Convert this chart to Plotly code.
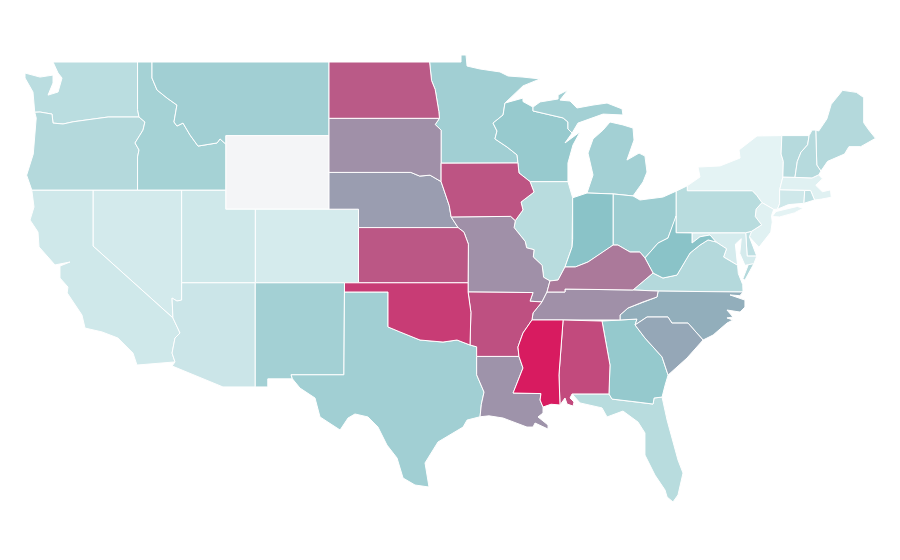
import plotly.graph_objects as go
from plotly.colors import sample_colorscale

# State values (0-100), read from the shade of each state
STATE_CODES = ["WY","NY","MA","NJ","DC","CT","RI","DE","MD","CO","NV","CA","UT","AZ","FL","WA","OR","ME","VT","NH",
               "PA","VA","IL","ID","MT","NM","TX","MN","WI","MI","OH","GA","IN","WV","NC","SC","NE","SD","MO","TN",
               "LA","KY","AR","ND","IA","KS","OK","AL","MS"]
STATE_VALUES = [0,6,8,8,8,16,23,24,13,13,14,16,16,18,27,26,29,29,28,28,
                27,29,27,36,38,37,38,38,43,37,40,44,49,49,56,58,61,65,65,65,
                64,72,84,81,83,82,90,86,100]
COLOR_STOPS = [[0.0,"#f4f5f7"],[0.04,"#e8f5f6"],[0.5,"#88c2c7"],[1.0,"#d81b60"]]

# Base geography: simplified boundaries in degrees (lon, lat)
WA_OR = [(-124.0,46.27),(-123.64,46.28),(-122.83,46.17),(-122.76,45.68),(-122.08,45.63),(-121.4,45.75),(-120.05,45.9),(-119.03,46.01),(-116.93,46.01)]
SNAKE = [(-116.93,46.01),(-116.53,45.74),(-116.66,45.3),(-117.2,44.6),(-116.93,44.22),(-117.03,43.84),(-117.03,42.04)]
ID_MT = [(-116.05,48.13),(-115.71,47.48),(-115.03,47.04),(-114.36,46.66),(-114.56,45.74),(-114.36,45.52),(-113.95,45.68),(-113.47,45.03),(-112.93,44.43),(-111.64,44.6),(-111.44,44.82),(-111.05,44.54)]
COLO = [(-114.63,35.09),(-114.15,34.27),(-114.49,34.0),(-114.69,33.18),(-114.49,32.7)]
RED = [(-100.05,34.6),(-99.24,34.33),(-97.88,33.89),(-96.32,33.78),(-95.37,33.89),(-94.49,33.62)]
SABINE = [(-94.04,33.0),(-94.04,32.0),(-93.54,31.06),(-93.72,30.4),(-93.81,29.72)]
MO_UP = [(-95.3,40.0),(-95.77,40.58),(-95.9,41.2),(-96.1,41.7),(-96.45,42.5)]
SD_NE = [(-96.45,42.5),(-97.2,42.85),(-97.9,42.8),(-98.5,43.0),(-104.05,43.0)]
RED_N = [(-97.23,49.0),(-97.1,48.0),(-96.85,47.5),(-96.6,46.3),(-96.56,45.94)]
SD_MN = [(-96.56,45.94),(-96.85,45.6),(-96.45,45.3),(-96.45,43.5)]
MISS_N = [(-92.12,46.77),(-92.25,46.12),(-92.93,45.68),(-92.66,45.25),(-92.8,44.82),(-91.98,44.38),(-91.3,43.95),(-91.24,43.51)]
MISS_IA = [(-91.24,43.51),(-91.17,42.97),(-90.42,42.5)]
MISS_IL = [(-90.42,42.5),(-90.15,41.93),(-91.03,41.39),(-90.9,40.96),(-91.42,40.38)]
MISS_MO = [(-91.42,40.38),(-91.5,40.0),(-90.75,39.25),(-90.65,38.9),(-90.15,38.8),(-90.2,38.4),(-89.6,37.95),(-89.5,37.3),(-89.07,37.1)]
MISS_KYTN = [(-89.07,37.1),(-89.27,36.5),(-89.61,35.96)]
MISS_AR = [(-89.61,35.96),(-90.22,35.36),(-90.29,34.98)]
MISS_AR2 = [(-90.29,34.98),(-90.9,34.27),(-91.24,33.51),(-91.17,33.0)]
MISS_LA = [(-91.17,33.0),(-90.9,32.37),(-91.57,31.01),(-89.68,30.98),(-89.74,30.63),(-89.54,30.25)]
OHIO_KY_IL = [(-89.07,37.1),(-88.52,37.15),(-88.05,37.86)]
OHIO_IN = [(-88.05,37.86),(-87.35,37.86),(-86.49,38.13),(-85.47,38.67),(-84.79,39.05)]
OHIO_OH = [(-84.79,39.05),(-84.46,39.05),(-83.64,38.67),(-82.97,38.67),(-82.63,38.35)]
OHIO_WV = [(-82.63,38.35),(-81.74,39.16),(-81.07,39.43),(-80.59,40.41),(-80.52,40.64)]
BIG_SANDY = [(-82.63,38.35),(-82.08,37.53)]
VA_WV = [(-82.08,37.53),(-81.41,37.26),(-80.46,37.42),(-79.78,38.35),(-79.57,38.62),(-78.9,39.05),(-78.35,39.33),(-77.81,39.22)]
POTOMAC = [(-77.81,39.22),(-77.1,38.85),(-77.3,38.4),(-76.95,38.25),(-76.35,37.95)]
TN_NC = [(-81.74,36.55),(-81.81,36.23),(-82.76,35.96),(-83.78,35.63),(-84.32,35.25),(-84.32,34.98)]
GA_SC = [(-83.3,34.71),(-82.63,34.0),(-81.47,32.97),(-81.13,32.15),(-81.06,31.99)]
NC_SC = [(-83.3,34.71),(-82.49,35.14),(-81.07,35.14),(-80.8,34.81),(-79.71,34.81),(-78.69,33.89)]
AL_GA = [(-85.54,34.92),(-85.0,32.53),(-85.07,30.96)]
FL_GA = [(-85.07,30.96),(-84.86,30.68),(-83.17,30.52),(-82.08,30.41),(-82.01,30.74),(-81.47,30.79)]
MS_AL = [(-88.18,34.98),(-88.46,31.99),(-88.39,30.36)]
DELAWARE = [(-74.7,41.36),(-75.1,41.0),(-75.15,40.6),(-74.72,40.15),(-75.4,39.8)]
NY_PA = [(-75.35,42.0),(-75.05,41.75),(-74.7,41.36)]
CT_RIVER = [(-71.5,45.0),(-71.6,44.5),(-72.05,44.1),(-72.3,43.6),(-72.46,42.73)]
WI_MI = [(-90.22,46.34),(-88.18,45.96),(-87.85,45.74),(-87.85,45.36),(-87.57,45.14)]

def rv(line):
    return line[::-1]

STATE_RINGS = {
 "WA": [[(-122.76,49.0),(-117.03,49.0),(-117.03,46.42),(-116.93,46.01)]+rv(WA_OR)+[(-124.12,47.37),(-124.66,48.13),(-124.66,48.4),(-123.64,48.18),(-122.76,48.29),(-122.76,47.86),(-123.1,47.2),(-122.42,47.37),(-122.15,48.13),(-122.42,48.4)]],
 "OR": [WA_OR+SNAKE+[(-124.2,42.04),(-124.55,42.85),(-124.1,44.0),(-123.9,45.96)]],
 "CA": [[(-124.2,42.04),(-120.05,42.04),(-120.05,39.0)]+COLO+[(-117.07,32.53),(-117.34,33.18),(-118.36,34.0),(-119.44,34.33),(-120.59,34.54),(-120.8,35.25),(-121.8,36.45),(-121.75,36.77),(-122.29,37.26),(-122.29,37.91),(-121.61,38.13),(-122.63,37.97),(-123.71,38.95),(-123.78,39.76),(-124.32,40.41),(-124.05,41.12)]],
 "NV": [[(-120.05,42.04),(-114.04,42.04),(-114.04,36.06),(-114.36,36.01),(-114.69,36.17),(-114.63,35.09),(-120.05,39.0)]],
 "ID": [[(-117.03,49.0),(-116.05,49.0)]+ID_MT+[(-111.05,42.04)]+rv(SNAKE)+[(-117.03,46.42)]],
 "MT": [[(-116.05,49.0),(-104.05,49.0),(-104.05,45.0),(-111.05,45.0)]+rv(ID_MT)],
 "WY": [[(-111.05,45.0),(-104.05,45.0),(-104.05,41.0),(-111.05,41.0)]],
 "UT": [[(-114.04,42.04),(-111.05,42.04),(-111.05,41.0),(-109.05,41.0),(-109.05,37.0),(-114.04,37.0)]],
 "AZ": [[(-114.04,37.0),(-109.05,37.0),(-109.05,31.34),(-111.24,31.34),(-114.69,32.48)]+rv(COLO)+[(-114.69,36.17),(-114.36,36.01),(-114.04,36.06)]],
 "CO": [[(-109.05,41.0),(-102.05,41.0),(-102.05,37.0),(-109.05,37.0)]],
 "NM": [[(-109.05,37.0),(-103.0,37.0),(-103.04,32.0),(-106.62,32.0),(-106.53,31.78),(-108.2,31.78),(-108.2,31.34),(-109.05,31.34)]],
 "TX": [[(-103.0,36.5),(-100.05,36.5)]+RED+[(-94.04,33.52)]+SABINE+[(-94.69,29.54),(-94.96,29.16),(-96.66,28.35),(-97.54,27.21),(-97.27,25.9),(-98.22,26.01),(-99.03,26.39),(-99.44,27.48),(-100.12,28.18),(-100.73,29.16),(-101.41,29.71),(-102.29,29.87),(-102.76,29.65),(-103.3,29.0),(-104.66,29.71),(-105.0,30.74),(-106.02,31.28),(-106.53,31.78),(-106.62,32.0),(-103.04,32.0)]],
 "OK": [[(-103.0,37.0),(-94.62,37.0),(-94.62,36.5),(-94.43,35.4)]+rv(RED)+[(-100.05,36.5),(-103.0,36.5)]],
 "KS": [[(-102.05,40.0),(-95.3,40.0),(-94.9,39.75),(-94.6,39.1),(-94.62,37.0),(-102.05,37.0)]],
 "NE": [[(-104.05,43.0)]+rv(SD_NE)[1:]+rv(MO_UP)+[(-102.05,40.0),(-102.05,41.0),(-104.05,41.0)]],
 "SD": [[(-104.05,45.94)]+SD_MN+[(-96.45,42.5)]+SD_NE[1:]],
 "ND": [[(-104.05,49.0)]+RED_N+[(-104.05,45.94)]],
 "MN": [[(-97.23,49.0),(-95.1,49.0),(-95.1,49.38),(-94.76,49.38),(-94.69,48.78),(-93.81,48.62),(-92.46,48.46),(-91.91,48.24),(-90.9,48.18),(-89.74,48.08),(-90.9,47.7)]+MISS_N+[(-96.45,43.5)]+rv(SD_MN)+rv(RED_N)[1:]],
 "IA": [[(-96.45,43.5)]+MISS_IA+MISS_IL[1:]+[(-91.73,40.61),(-95.77,40.58),(-95.9,41.2),(-96.1,41.7),(-96.45,42.5)]],
 "MO": [[(-95.77,40.58),(-91.73,40.61)]+MISS_MO+MISS_KYTN[1:]+[(-90.42,36.0),(-90.22,36.47),(-94.62,36.5),(-94.62,37.0),(-94.6,39.1),(-94.9,39.75),(-95.3,40.0)]],
 "AR": [[(-94.62,36.5),(-90.22,36.47),(-90.42,36.0)]+MISS_AR+MISS_AR2[1:]+[(-94.04,33.0),(-94.04,33.52),(-94.49,33.62),(-94.43,35.4)]],
 "LA": [MISS_LA+[(-89.54,29.92),(-89.88,29.71),(-89.2,29.27),(-89.2,29.05),(-90.08,29.38),(-90.22,29.16),(-90.63,29.16),(-91.3,29.35),(-92.25,29.65),(-93.2,29.77)]+rv(SABINE)],
 "MS": [[(-90.29,34.98)]+MS_AL+[(-89.0,30.4)]+rv(MISS_LA)+rv(MISS_AR2)[1:]],
 "AL": [[(-88.18,34.98)]+AL_GA+[(-87.57,30.96),(-87.71,30.74),(-87.44,30.52),(-87.5,30.3),(-87.91,30.41),(-88.05,30.74),(-88.39,30.36),(-88.46,31.99)]],
 "GA": [AL_GA+FL_GA[1:]+[(-81.26,31.45)]+rv(GA_SC)+[(-83.17,35.03),(-84.32,34.98)]],
 "FL": [[(-87.57,30.96)]+FL_GA+[(-81.13,29.54),(-80.39,27.37),(-80.05,26.66),(-80.39,25.47),(-80.73,25.09),(-81.13,25.36),(-81.27,25.74),(-81.95,26.55),(-82.63,27.64),(-82.63,28.84),(-83.1,29.43),(-84.12,30.03),(-85.2,29.71),(-85.54,30.2),(-87.03,30.47)]],
 "SC": [NC_SC+[(-79.78,32.91)]+rv(GA_SC)],
 "NC": [[(-81.74,36.55),(-75.98,36.5),(-76.2,36.3),(-76.86,36.34),(-75.85,36.06),(-75.85,35.68),(-76.18,35.41),(-77.07,35.52),(-76.66,35.14),(-77.07,35.09),(-76.66,34.98),(-77.07,34.81),(-78.01,34.16)]+rv(NC_SC)+[(-83.17,35.03)]+rv(TN_NC)[:-1]],
 "TN": [[(-89.27,36.5),(-88.05,36.5),(-88.05,36.66),(-83.44,36.61)]+TN_NC+rv(MISS_AR)],
 "KY": [OHIO_KY_IL+OHIO_IN[1:]+OHIO_OH[1:]+BIG_SANDY[1:]+[(-83.44,36.61),(-88.05,36.66),(-88.05,36.5),(-89.27,36.5)]],
 "VA": [[(-83.44,36.61)]+VA_WV+POTOMAC+[(-76.3,37.5),(-76.0,36.9),(-75.98,36.5),(-81.74,36.55)],
        [(-75.25,38.03),(-75.62,37.99),(-76.0,37.2),(-75.85,37.15)]],
 "WV": [OHIO_WV+[(-80.52,39.72),(-79.44,39.71),(-79.44,39.16),(-78.9,39.5),(-78.22,39.6)]+rv(VA_WV)+rv(BIG_SANDY)[1:]],
 "OH": [[(-84.79,41.83),(-83.44,41.72),(-82.97,41.5),(-81.41,41.66),(-80.52,41.98)]+rv(OHIO_WV)+rv(OHIO_OH)],
 "IN": [[(-87.53,41.62),(-86.56,41.88),(-84.79,41.83)]+rv(OHIO_IN)+[(-87.57,38.95),(-87.53,39.35)]],
 "IL": [[(-90.42,42.5),(-87.85,42.5),(-87.53,41.62),(-87.53,39.35),(-87.57,38.95)]+rv(OHIO_KY_IL)+rv(MISS_MO)[1:]+rv(MISS_IL)[1:]],
 "WI": [[(-92.12,46.77),(-90.9,47.04),(-90.9,46.85),(-90.22,46.55)]+WI_MI+[(-88.05,44.6),(-87.03,45.2),(-87.51,44.49),(-87.85,43.51),(-87.85,42.5)]+rv(MISS_IA)+rv(MISS_N)],
 "MI": [[(-86.56,41.88),(-84.79,41.83),(-83.44,41.72),(-82.76,42.48),(-82.49,43.02),(-82.63,43.89),(-83.03,44.05),(-83.85,43.67),(-83.37,44.76),(-83.44,45.41),(-84.12,45.58),(-85.0,45.74),(-85.47,45.3),(-86.15,44.82),(-86.49,44.05),(-86.15,42.86)],
        [(-90.22,46.55),(-89.74,46.83),(-88.52,46.99),(-88.52,47.21),(-87.85,47.48),(-88.39,46.93),(-87.71,46.88),(-87.24,46.5),(-86.15,46.66),(-85.2,46.77),(-84.18,46.45),(-84.12,46.12),(-85.47,46.17),(-86.56,45.85),(-87.17,45.68)]+rv(WI_MI)],
 "PA": [[(-80.52,41.98),(-79.76,42.27),(-79.76,42.0)]+NY_PA+DELAWARE[1:]+[(-75.8,39.72),(-80.52,39.72),(-80.52,40.64)]],
 "NY": [[(-79.76,42.27),(-78.9,42.75),(-79.03,43.29),(-77.54,43.35),(-76.18,43.78),(-76.25,44.22),(-75.03,44.98),(-73.35,45.0),(-73.4,44.0),(-73.25,43.6),(-73.28,42.75),(-73.5,42.05),(-73.5,41.3),(-73.65,41.0),(-73.9,40.99)]+rv(NY_PA)+[(-79.76,42.0)],
        [(-74.0,40.6),(-73.75,40.87),(-72.3,41.15),(-71.9,41.05),(-72.5,40.8),(-73.5,40.58)]],
 "NJ": [[(-74.7,41.36),(-73.9,40.99),(-74.05,40.65),(-74.0,40.3),(-74.1,39.75),(-74.9,38.93),(-75.55,39.5)]+rv(DELAWARE)[:-1]],
 "DE": [[(-75.8,39.72),(-75.4,39.8),(-75.55,39.5),(-75.05,38.45),(-75.7,38.45)]],
 "MD": [[(-79.44,39.71),(-75.8,39.72),(-75.7,38.45),(-75.05,38.45),(-75.25,38.03),(-75.85,37.95),(-76.2,38.6),(-76.1,39.4),(-76.5,39.1),(-76.4,38.3)]+rv(POTOMAC)+[(-78.22,39.6),(-78.9,39.5),(-79.44,39.16)]],
 "DC": [[(-77.12,38.93),(-77.04,39.0),(-76.91,38.89),(-77.04,38.79)]],
 "CT": [[(-73.5,42.05),(-71.8,42.02),(-71.85,41.32),(-72.9,41.25),(-73.65,41.0),(-73.5,41.3)]],
 "RI": [[(-71.8,42.02),(-71.4,42.02),(-71.13,41.5),(-71.85,41.32)]],
 "MA": [[(-73.28,42.75),(-72.46,42.73),(-71.3,42.7),(-70.85,42.87),(-70.6,42.65),(-71.05,42.3),(-70.6,41.95),(-70.05,42.05),(-70.05,41.8),(-70.0,41.65),(-70.65,41.55),(-71.13,41.5),(-71.4,42.02),(-71.8,42.02),(-73.5,42.05)]],
 "VT": [[(-73.35,45.0)]+CT_RIVER+[(-73.28,42.75),(-73.25,43.6),(-73.4,44.0)]],
 "NH": [[(-71.5,45.0),(-71.3,45.3),(-71.05,45.3),(-70.98,43.4),(-70.7,43.07),(-70.85,42.87),(-71.3,42.7)]+rv(CT_RIVER)[:-1]],
 "ME": [[(-71.05,45.3),(-70.85,45.25),(-70.3,45.9),(-70.0,46.7),(-69.23,47.46),(-68.3,47.35),(-67.8,47.07),(-67.8,45.7),(-67.45,45.3),(-67.0,44.85),(-68.0,44.4),(-68.8,44.4),(-69.1,44.0),(-69.8,43.75),(-70.25,43.6),(-70.7,43.07),(-70.98,43.4)]],
}

LON_RANGE = [-125.813, -64.796]
LAT_RANGE = [21.5, 51.935]

fig = go.Figure()
for code, val in zip(STATE_CODES, STATE_VALUES):
    xs, ys = [], []
    for ring in STATE_RINGS[code]:
        closed = ring + [ring[0]]
        xs += [p[0] for p in closed] + [None]
        ys += [p[1] for p in closed] + [None]
    color = sample_colorscale(COLOR_STOPS, [val / 100])[0]
    fig.add_trace(go.Scatter(x=xs, y=ys, mode="lines", fill="toself", fillcolor=color,
                             line=dict(color="white", width=1), name=code,
                             hovertemplate=f"{code}: {val}<extra></extra>", showlegend=False))

fig.update_xaxes(visible=False, range=LON_RANGE, fixedrange=True)
fig.update_yaxes(visible=False, range=LAT_RANGE, fixedrange=True)
fig.update_layout(width=900, height=560, margin=dict(l=0, r=0, t=0, b=0),
                  paper_bgcolor="white", plot_bgcolor="white")
fig.write_html("out.html")
